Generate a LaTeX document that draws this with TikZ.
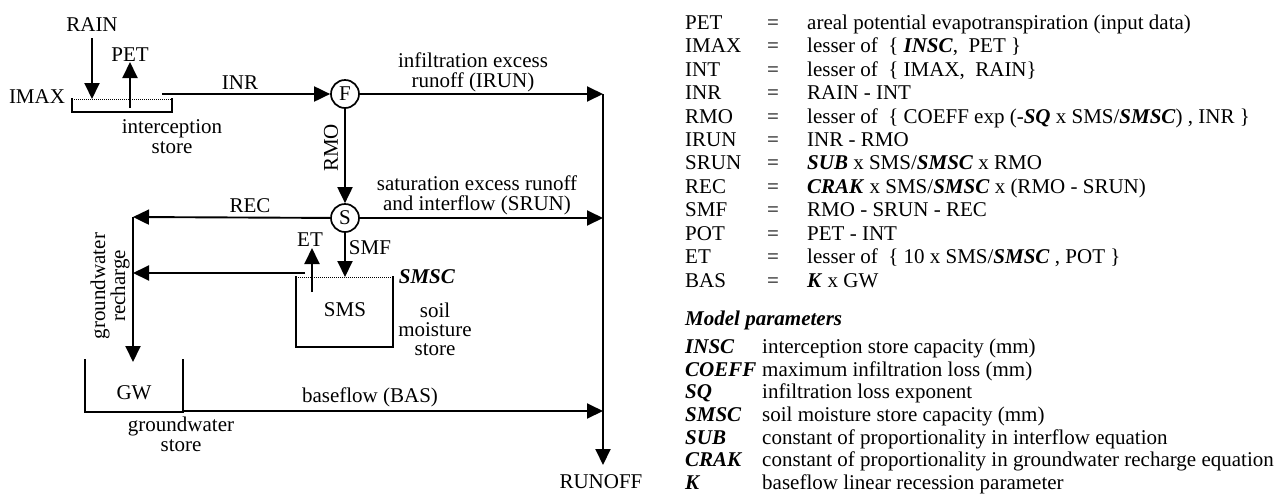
\documentclass[tikz,border=0pt]{standalone}
\usepackage{fontspec}
\setmainfont{Liberation Serif}
\usetikzlibrary{arrows.meta}
\newcommand{\bi}[1]{\textbf{\textit{#1}}}
\newcommand{\fz}{\fontsize{21}{20}\selectfont}
\tikzset{
  flow/.style={line width=1.9pt, -{Triangle[length=16pt,width=15pt]}},
  wire/.style={line width=1.7pt},
  dotline/.style={line width=1pt, densely dotted},
  junc/.style={circle, draw, line width=1.7pt, minimum size=28pt, inner sep=0pt, font=\fz},
  lbl/.style={font=\fz, inner sep=0pt},
  ml/.style={font=\fz, inner sep=0pt, align=center},
  rowl/.style={font=\fz, inner sep=0pt, anchor=base west},
  rowe/.style={font=\fz, inner sep=0pt, anchor=base},
}
\begin{document}
\begin{tikzpicture}[x=1pt,y=-1pt]
\useasboundingbox (0,0) rectangle (1280,496);
% junctions
\node[junc] (F) at (345,94) {F};
\node[junc] (S) at (345,218) {S};
% coordinates
\coordinate (inrstart) at (162,94);
\coordinate (irunend) at (603,94);
\coordinate (srunend) at (603,218);
\coordinate (basend) at (603,411);
\coordinate (runoffend) at (603,465);
\coordinate (recend) at (133,217);
\coordinate (gwtop) at (133,362);
\coordinate (smsleft) at (305,273);
\coordinate (rchend) at (133,273);
\coordinate (smstop) at (345,277);
\coordinate (etbot) at (312,292);
\coordinate (ettop) at (312,248);
\coordinate (raintop) at (92,38);
\coordinate (rainbot) at (92,99);
\coordinate (petbot) at (130,108);
\coordinate (pettop) at (130,62);
\coordinate (gwright) at (183,411);
% stores
\draw[dotline] (72,99) -- (172,99);
\draw[wire] (72,98) -- (72,112) -- (172,112) -- (172,98);
\draw[dotline] (296,277) -- (393,277);
\draw[wire] (296,276) -- (296,347) -- (393,347) -- (393,276);
\draw[wire] (85,359) -- (85,412) -- (183,412) -- (183,359);
% connectors
\draw[flow] (raintop) -- (rainbot);
\draw[flow] (petbot) -- (pettop);
\draw[flow] (inrstart) -- (F);
\draw[flow] (F) -- (irunend);
\draw[flow] (F) -- (S);
\draw[flow] (S) -- (srunend);
\draw[flow] (S) -- (recend);
\draw[flow] (S) -- (smstop);
\draw[flow] (irunend) -- (runoffend);
\draw[flow] (recend) -- (gwtop);
\draw[flow] (smsleft) -- (rchend);
\draw[flow] (etbot) -- (ettop);
\draw[flow] (gwright) -- (basend);
% diagram labels
\node[lbl] (train) at (92,25) {RAIN};
\node[lbl] (tpet) at (130,55) {PET};
\node[lbl] (timax) at (37,97) {IMAX};
\node[lbl] (tinr) at (240,83) {INR};
\node[ml] (tint) at (172,137) {interception\\store};
\node[ml] (tirun) at (473,72) {infiltration excess\\runoff (IRUN)};
\node[lbl, rotate=90] (trmo) at (331,148) {RMO};
\node[ml] (tsrun) at (477,195) {saturation excess runoff\\and interflow (SRUN)};
\node[lbl] (trec) at (250,206) {REC};
\node[lbl] (tet) at (310,240) {ET};
\node[lbl] (tsmf) at (370,248) {SMF};
\node[lbl] (tsmsc) at (427,277) {\bi{SMSC}};
\node[ml, font=\fontsize{21}{19}\selectfont] (tsoil) at (435,329) {soil\\moisture\\store};
\node[lbl] (tsms) at (345,310) {SMS};
\node[lbl] (tgw) at (134,393) {GW};
\node[ml] (tgws) at (181,434) {groundwater\\store};
\node[ml, rotate=90] (tgwr) at (110,286) {groundwater\\recharge};
\node[lbl] (tbas) at (370,397) {baseflow (BAS)};
\node[lbl] (trunoff) at (601,482) {RUNOFF};
% equations
\node[rowl] (l1) at (685,29) {PET};
\node[rowe] (e1) at (773,29) {=};
\node[rowl] (d1) at (807,29) {areal potential evapotranspiration (input data)};
\node[rowl] (l2) at (685,52) {IMAX};
\node[rowe] (e2) at (773,52) {=};
\node[rowl] (d2) at (807,52) {lesser of \ \{ \bi{INSC}, \ PET \}};
\node[rowl] (l3) at (685,76) {INT};
\node[rowe] (e3) at (773,76) {=};
\node[rowl] (d3) at (807,76) {lesser of \ \{ IMAX, \ RAIN\}};
\node[rowl] (l4) at (685,99) {INR};
\node[rowe] (e4) at (773,99) {=};
\node[rowl] (d4) at (807,99) {RAIN - INT};
\node[rowl] (l5) at (685,123) {RMO};
\node[rowe] (e5) at (773,123) {=};
\node[rowl] (d5) at (807,123) {lesser of \ \{ COEFF exp (-\bi{SQ} x SMS/\bi{SMSC}) , INR \}};
\node[rowl] (l6) at (685,146) {IRUN};
\node[rowe] (e6) at (773,146) {=};
\node[rowl] (d6) at (807,146) {INR - RMO};
\node[rowl] (l7) at (685,169) {SRUN};
\node[rowe] (e7) at (773,169) {=};
\node[rowl] (d7) at (807,169) {\bi{SUB} x SMS/\bi{SMSC} x RMO};
\node[rowl] (l8) at (685,193) {REC};
\node[rowe] (e8) at (773,193) {=};
\node[rowl] (d8) at (807,193) {\bi{CRAK} x SMS/\bi{SMSC} x (RMO - SRUN)};
\node[rowl] (l9) at (685,216) {SMF};
\node[rowe] (e9) at (773,216) {=};
\node[rowl] (d9) at (807,216) {RMO - SRUN - REC};
\node[rowl] (l10) at (685,240) {POT};
\node[rowe] (e10) at (773,240) {=};
\node[rowl] (d10) at (807,240) {PET - INT};
\node[rowl] (l11) at (685,263) {ET};
\node[rowe] (e11) at (773,263) {=};
\node[rowl] (d11) at (807,263) {lesser of \ \{ 10 x SMS/\bi{SMSC} , POT \}};
\node[rowl] (l12) at (685,287) {BAS};
\node[rowe] (e12) at (773,287) {=};
\node[rowl] (d12) at (807,287) {\bi{K} x GW};
% parameters
\node[rowl] (mp) at (685,325) {\bi{Model parameters}};
\node[rowl] (p1) at (685,353) {\bi{INSC}};
\node[rowl] (q1) at (762,353) {interception store capacity (mm)};
\node[rowl] (p2) at (685,376) {\bi{COEFF}};
\node[rowl] (q2) at (762,376) {maximum infiltration loss (mm)};
\node[rowl] (p3) at (685,398) {\bi{SQ}};
\node[rowl] (q3) at (762,398) {infiltration loss exponent};
\node[rowl] (p4) at (685,421) {\bi{SMSC}};
\node[rowl] (q4) at (762,421) {soil moisture store capacity (mm)};
\node[rowl] (p5) at (685,444) {\bi{SUB}};
\node[rowl] (q5) at (762,444) {constant of proportionality in interflow equation};
\node[rowl] (p6) at (685,466) {\bi{CRAK}};
\node[rowl] (q6) at (762,466) {constant of proportionality in groundwater recharge equation};
\node[rowl] (p7) at (685,489) {\bi{K}};
\node[rowl] (q7) at (762,489) {baseflow linear recession parameter};
\end{tikzpicture}
\end{document}
